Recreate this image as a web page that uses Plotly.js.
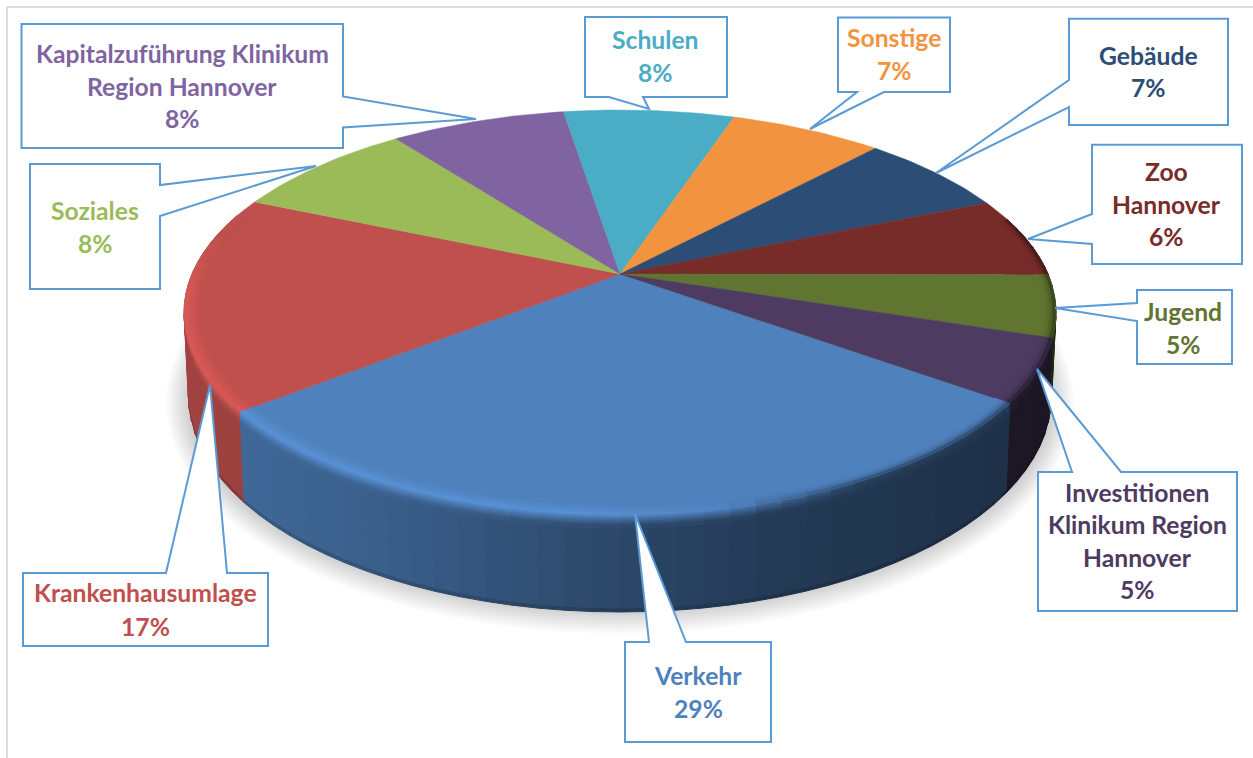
<!DOCTYPE html>
<html><head><meta charset="utf-8">
<script src="https://cdn.plot.ly/plotly-3.0.1.min.js"></script>
<style>html,body{margin:0;padding:0;background:#fff}</style></head>
<body><div id="chart" style="width:1253px;height:758px"></div>
<script>
// ---- data (order: clockwise, starting with the front slice)
const categories = ["Verkehr","Krankenhausumlage","Soziales","Kapitalzuführung Klinikum Region Hannover","Schulen","Sonstige","Gebäude","Zoo Hannover","Jugend","Investitionen Klinikum Region Hannover"];
const values = [29.3,17.2,8.2,7.8,7.6,6.8,6.7,6.45,4.95,5.0];
const nameLines = [["Verkehr"],["Krankenhausumlage"],["Soziales"],["Kapitalzuführung Klinikum","Region Hannover"],["Schulen"],["Sonstige"],["Gebäude"],["Zoo","Hannover"],["Jugend"],["Investitionen","Klinikum Region","Hannover"]];
const colors = ["#4F81BD","#C0504D","#9BBB59","#8064A2","#4BACC6","#F2933F","#2C4D75","#772C2A","#5F7530","#4D3B62"];

// ---- layout
const labelX = [698,145,95,182,655,894,1148,1166,1183,1137];
const labelY = [[675,708],[592,626],[210,243],[53,86,118],[39,72],[37,70],[55,87],[171,204,236],[311,344],[492,524,557,589]];
const callouts = [
 [[625,642],[649,642],[635,514],[686,642],[771,642],[771,742],[625,742]],
 [[23,573],[166,573],[210,385],[227,573],[268,573],[268,646],[23,646]],
 [[30,164],[160,164],[160,185],[316,166],[160,216],[160,289],[30,289]],
 [[21.5,24],[343,24],[343,96.5],[476,119],[343,127.5],[343,148],[21.5,148]],
 [[585,17],[727,17],[727,97],[643,97],[649,109],[609,97],[585,97]],
 [[838,17.5],[950,17.5],[950,92],[884,92],[810,129],[857,92],[838,92]],
 [[1069,18.7],[1228,18.7],[1228,125],[1069,125],[1069,107],[936,173],[1069,80]],
 [[1092,144.7],[1242,144.7],[1242,264],[1092,264],[1092,244],[1028,239],[1092,214]],
 [[1137,290],[1232,290],[1232,364],[1137,364],[1137,321],[1055,308],[1137,303]],
 [[1038,472],[1072,472],[1037,369],[1121,472],[1237,472],[1237,611],[1038,611]]
];
const startAngle = 126, apexX = 620, apexY = 274, K = 428, Ky = 195.2, C = 0.19;
const shadeT = [-1,-0.85,-0.5,0,0.37,0.87,1.05], shadeF = [0.84,0.8,0.72,0.55,0.45,0.38,0.36];

function rgb(h){return [1,3,5].map(i=>parseInt(h.substr(i,2),16));}
function css(a){return "rgb("+a.map(v=>Math.max(0,Math.min(255,Math.round(v)))).join(",")+")";}
function mix(a,b,t){return a.map((v,i)=>v+(b[i]-v)*t);}
function clamp(v){return Math.max(0,Math.min(1,v));}
function proj(deg,r){
  const a=deg*Math.PI/180,u=r*Math.sin(a),v=-r*Math.cos(a),d=1-C*v;
  return [apexX+K*u/d, apexY+Ky*v/d, v];
}
function wallAt(deg,px,fromBottom){
  const p=proj(deg,1), H=80+17*p[2], h=fromBottom?H-px:Math.min(px,H), s=1-0.01*h/H;
  return [apexX+(p[0]-apexX)*s, p[1]+h];
}
function poly(pts,color,w){
  return {type:"scatter",mode:"lines",x:pts.map(p=>p[0]).concat(pts[0][0]),y:pts.map(p=>p[1]).concat(pts[0][1]),
    fill:"toself",fillcolor:color,line:{color:color,width:w===undefined?1:w},hoverinfo:"skip",showlegend:false};
}
const total = values.reduce((a,b)=>a+b,0);
let a0 = startAngle; const slices=[];
values.forEach((v,i)=>{const a1=a0+v/total*360;slices.push({i,a0,a1});a0=a1;});

const traces=[];
// soft shadow beneath the pie
for(let d=22;d>=0;d-=2){
  const pts=[];
  for(let t=0;t<360;t+=3){const a=t*Math.PI/180;pts.push([620+(432+d)*Math.cos(a),402+(210+d)*Math.sin(a)]);}
  const tr=poly(pts,"rgba(0,0,0,0.014)",0);traces.push(tr);
}
function shade(t){
  for(let i=1;i<shadeT.length;i++) if(t<=shadeT[i]) return shadeF[i-1]+(shadeF[i]-shadeF[i-1])*(t-shadeT[i-1])/(shadeT[i]-shadeT[i-1]);
  return shadeF[shadeF.length-1];
}
function sideColor(base,x){const f=shade((x-620)/436);return base.map(c=>c*f);}
function rimState(base,p){
  const t=(p[0]-620)/436,v=p[2];
  const hl=clamp((0.35-t)/0.45)*clamp((v+0.2)/0.3);
  const dk=clamp((t-0.25)/0.3)*clamp((v+0.7)/0.5);
  const light=base.map(c=>c*1.13);
  return {outer:mix(mix(base,light,hl),sideColor(base,p[0]),dk*0.85),dk};
}
const step=3, segs=[];
slices.forEach(s=>{
  for(let a=s.a0;a<s.a1-1e-6;a+=step){
    const b=Math.min(a+step,s.a1),m=(a+b)/2,pm=proj(m,1);
    if(pm[2]>-0.3) segs.push({i:s.i,a,b,m,v:pm[2]});
  }
});
segs.sort((p,q)=>p.v-q.v);
const bands=[[0,2,0.12],[2,4,0.3],[4,6,0.48],[6,8,0.66],[8,10,0.82],[10,13,0.94]];
segs.forEach(g=>{
  const base=rgb(colors[g.i]),pm=proj(g.m,1),side=sideColor(base,pm[0]),st=rimState(base,pm);
  traces.push(poly([wallAt(g.a,12),wallAt(g.b,12),wallAt(g.b,3,true),wallAt(g.a,3,true)],css(side)));
  traces.push(poly([wallAt(g.a,3,true),wallAt(g.b,3,true),wallAt(g.b,0,true),wallAt(g.a,0,true)],css(side.map(c=>c*0.85))));
  bands.forEach(bd=>{
    traces.push(poly([wallAt(g.a,bd[0]),wallAt(g.b,bd[0]),wallAt(g.b,bd[1]),wallAt(g.a,bd[1])],css(mix(st.outer,side,bd[2]))));
  });
});
// top faces
slices.forEach(s=>{
  const pts=[[apexX,apexY]];
  for(let a=s.a0;a<s.a1;a+=1)pts.push(proj(a,1));
  pts.push(proj(s.a1,1));
  const tr=poly(pts,colors[s.i],0.5);
  tr.name=categories[s.i];
  traces.push(tr);
});
// bevel on the rim of the top faces
const rings=[0.965,0.972,0.979,0.986,0.993,1.0];
segs.forEach(g=>{
  const base=rgb(colors[g.i]),st=rimState(base,proj(g.m,1));
  for(let k=0;k<5;k++){
    const w=Math.pow((k+0.5)/5,1+2.5*st.dk);
    traces.push(poly([proj(g.a,rings[k]),proj(g.b,rings[k]),proj(g.b,rings[k+1]),proj(g.a,rings[k+1])],css(mix(base,st.outer,w)),0.6));
  }
});
// callouts, frame and texts
const shapes=[
 {type:"line",xref:"x",yref:"y",x0:7,y0:7,x1:1253,y1:7,line:{color:"#DCDCDC",width:2},layer:"above"},
 {type:"line",xref:"x",yref:"y",x0:7,y0:7,x1:7,y1:758,line:{color:"#DCDCDC",width:2},layer:"above"}
];
callouts.forEach(c=>{
  shapes.push({type:"path",xref:"x",yref:"y",path:"M "+c.map(p=>p[0]+" "+p[1]).join(" L ")+" Z",
    fillcolor:"#FFFFFF",line:{color:"#5B9BD5",width:2},layer:"above"});
});
const annotations=[];
categories.forEach((c,i)=>{
  const lines=nameLines[i].concat(Math.round(values[i])+"%");
  lines.forEach((t,j)=>{
    annotations.push({x:labelX[i],y:labelY[i][j],xref:"x",yref:"y",text:"<b>"+t+"</b>",showarrow:false,
      xanchor:"center",yanchor:"middle",align:"center",font:{family:"Lato, sans-serif",size:24.7,color:colors[i]}});
  });
});
Plotly.newPlot("chart",traces,{
  width:1253,height:758,margin:{l:0,r:0,t:0,b:0},paper_bgcolor:"#fff",plot_bgcolor:"#fff",showlegend:false,hovermode:false,
  xaxis:{range:[0,1253],visible:false,fixedrange:true},
  yaxis:{range:[758,0],visible:false,fixedrange:true},
  shapes,annotations
},{displayModeBar:false,staticPlot:true});
</script></body></html>
